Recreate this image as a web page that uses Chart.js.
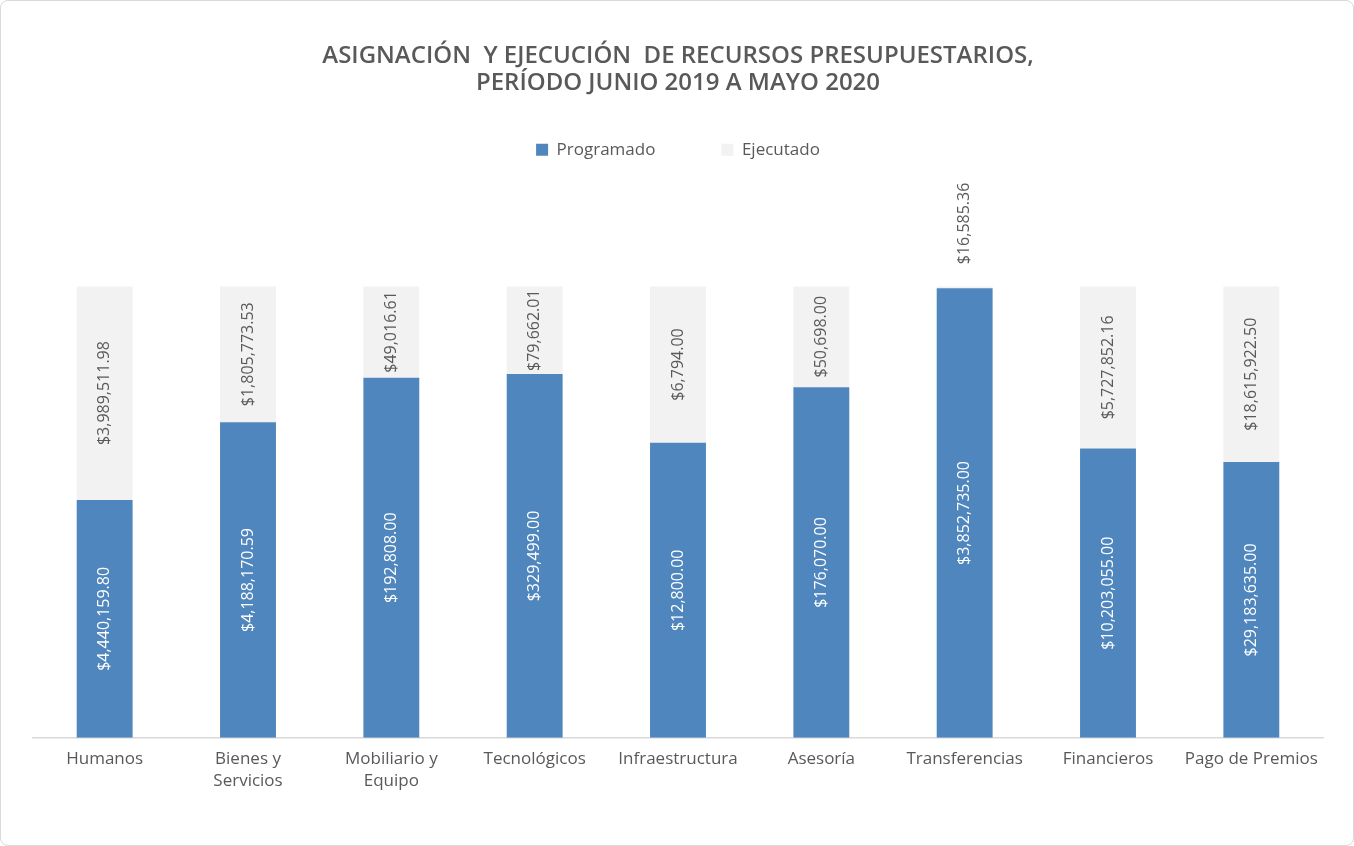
<!DOCTYPE html>
<html>
<head>
<meta charset="utf-8">
<script src="https://cdn.jsdelivr.net/npm/chart.js@4"></script>
<style>
    body { margin: 0; background: #ffffff; }
    .chart-box {
        position: absolute; left: 0; top: 0;
        width: 1352px; height: 844px;
        border: 1px solid #D9D9D9; border-radius: 8px;
        background: #ffffff;
    }
</style>
</head>
<body>
<div class="chart-box"><canvas id="budgetBarChart"></canvas></div>
<script>
// data
var categories = [['Humanos'], ['Bienes y', 'Servicios'], ['Mobiliario y', 'Equipo'], 'Tecnológicos',
    'Infraestructura', 'Asesoría', 'Transferencias', 'Financieros', 'Pago de Premios'];
var programado = [4440159.80, 4188170.59, 192808.00, 329499.00, 12800.00, 176070.00, 3852735.00, 10203055.00, 29183635.00];
var ejecutado = [3989511.98, 1805773.53, 49016.61, 79662.01, 6794.00, 50698.00, 16585.36, 5727852.16, 18615922.50];

var textColor = '#595959';
var fontName = "'Open Sans', sans-serif";

// 100% stacked -> share of each category total
function share(values, other) {
    return values.map((v, i) => v / (v + other[i]) * 100);
}
var rawSeries = [programado, ejecutado];

function money(v) {
    return '$' + v.toLocaleString('en-US', { minimumFractionDigits: 2, maximumFractionDigits: 2 });
}

// rotated value labels inside (or above) each segment
const barLabels = {
    id: 'barLabels',
    afterDatasetsDraw(chart) {
        const ctx = chart.ctx;
        ctx.save();
        ctx.font = '16px ' + fontName;
        ctx.textAlign = 'center';
        ctx.textBaseline = 'middle';
        chart.data.datasets.forEach((ds, i) => {
            const meta = chart.getDatasetMeta(i);
            meta.data.forEach((bar, j) => {
                const text = money(rawSeries[i][j]);
                const w = ctx.measureText(text).width;
                const h = bar.base - bar.y;
                var cy;
                if (w < h) {
                    cy = (bar.y + bar.base) / 2;
                } else {
                    cy = bar.y - 22 - w / 2;
                }
                ctx.fillStyle = i === 0 ? '#ffffff' : textColor;
                ctx.save();
                ctx.translate(bar.x, cy);
                ctx.rotate(-Math.PI / 2);
                ctx.fillText(text, 0, 0);
                ctx.restore();
            });
        });
        ctx.restore();
    }
};

// extra room between legend and bars
const legendGap = {
    id: 'legendGap',
    beforeInit(chart) {
        const fit = chart.legend.fit;
        chart.legend.fit = function () {
            fit.bind(chart.legend)();
            this.height += 118;
        };
    }
};

var ctx = document.getElementById('budgetBarChart').getContext('2d');
var budgetBarChart = new Chart(ctx, {
    type: 'bar',
    data: {
        labels: categories,
        datasets: [{
            label: 'Programado',
            data: share(programado, ejecutado),
            backgroundColor: '#4F86BD',
            barPercentage: 0.78,
            categoryPercentage: 0.5
        },
        {
            label: 'Ejecutado',
            data: share(ejecutado, programado),
            backgroundColor: '#F2F2F2',
            barPercentage: 0.78,
            categoryPercentage: 0.5
        }]
    },
    options: {
        responsive: true,
        maintainAspectRatio: false,
        animation: false,
        layout: {
            padding: { left: 32, right: 30, top: 0, bottom: 51 }
        },
        plugins: {
            title: {
                display: true,
                text: ['ASIGNACIÓN  Y EJECUCIÓN  DE RECURSOS PRESUPUESTARIOS,', 'PERÍODO JUNIO 2019 A MAYO 2020'],
                color: textColor,
                font: { family: fontName, size: 24, weight: '600', lineHeight: 1.15 },
                padding: { top: 41, bottom: -22 }
            },
            legend: {
                display: true,
                position: 'top',
                labels: {
                    color: textColor,
                    font: { family: fontName, size: 17 },
                    boxWidth: 12,
                    boxHeight: 12,
                    padding: 66
                }
            },
            tooltip: { enabled: false }
        },
        scales: {
            x: {
                stacked: true,
                grid: { display: false },
                border: { color: '#D9D9D9', width: 1.5 },
                ticks: {
                    color: textColor,
                    font: { family: fontName, size: 17, lineHeight: 1.3 },
                    padding: 2,
                    maxRotation: 0,
                    autoSkip: false
                }
            },
            y: {
                stacked: true,
                display: false,
                min: 0,
                max: 100
            }
        }
    },
    plugins: [barLabels, legendGap]
});
</script>
</body>
</html>
